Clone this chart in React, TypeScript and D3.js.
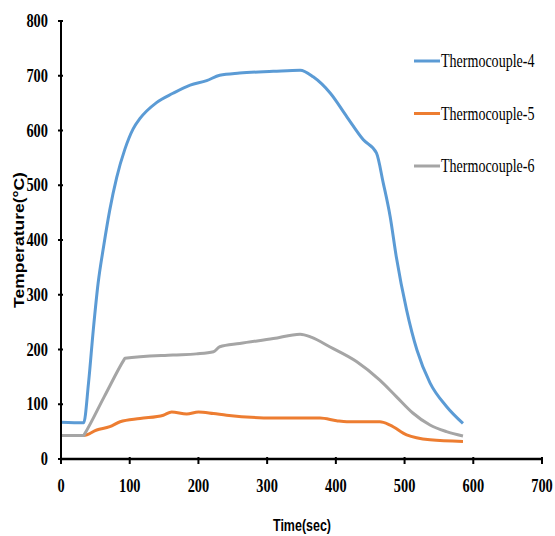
import React from "react";
import * as d3 from "d3";

const xTicks = [0, 100, 200, 300, 400, 500, 600, 700];
const yTicks = [0, 100, 200, 300, 400, 500, 600, 700, 800];
const seriesNames = ["Thermocouple-4", "Thermocouple-5", "Thermocouple-6"];
const seriesColors = ["#5B9BD5", "#ED7D31", "#A5A5A5"];

const tc4: [number, number][] = [
  [0, 67], [33, 66], [40, 138], [47, 236], [54, 321], [62, 388], [71, 455], [81, 514],
  [93, 566], [105, 603], [115, 622], [139, 651], [163, 668], [188, 683], [212, 691], [231, 701],
  [260, 705], [309, 708], [348, 710], [367, 698], [392, 668], [416, 625], [440, 583],
  [459, 559], [469, 504], [479, 443], [488, 369], [503, 272], [518, 199], [537, 139],
  [561, 96], [585, 65],
];
const tc5: [number, number][] = [
  [0, 43], [33, 43], [52, 53], [71, 59], [86, 68], [115, 74], [149, 80], [161, 86],
  [183, 82], [200, 86], [222, 83], [241, 80], [309, 75], [377, 75], [401, 70],
  [416, 68], [464, 68], [479, 62], [503, 44], [537, 35], [585, 32],
];
const tc6: [number, number][] = [
  [0, 43], [33, 43], [34, 45], [63, 114], [92, 182], [93, 184], [163, 190], [197, 192],
  [222, 196], [231, 205], [260, 211], [309, 220], [348, 228], [365, 222], [391, 205],
  [430, 178], [464, 144], [488, 114], [512, 84], [537, 62], [561, 50], [585, 42],
];
const allSeries = [tc4, tc5, tc6];

const W = 555, H = 536;
const L = 61, R = 542, T = 21, B = 459;

export default function App() {
  const x = d3.scaleLinear().domain([0, 700]).range([L, R]);
  const y = d3.scaleLinear().domain([0, 800]).range([B, T]);
  const smooth = d3.line<[number, number]>().x(d => x(d[0])).y(d => y(d[1])).curve(d3.curveMonotoneX);
  const serif = "'Liberation Serif', 'Times New Roman', serif";
  return (
    <svg width={W} height={H} style={{ position: "absolute", left: 0, top: 0, background: "#fff" }}>
      {allSeries.map((s, i) => (
        <path key={i} d={smooth(s) || ""} fill="none" stroke={seriesColors[i]}
          strokeWidth={3} strokeLinejoin="round" />
      ))}
      <line x1={L} x2={L} y1={T} y2={B} stroke="#000" strokeWidth={2} />
      <line x1={L} x2={R} y1={B} y2={B} stroke="#000" strokeWidth={2.5} />
      {yTicks.map(t => (
        <g key={"y" + t}>
          <line x1={L - 3} x2={L + 2} y1={y(t)} y2={y(t)} stroke="#000" strokeWidth={2} />
          <text transform={`translate(${L - 13},${y(t) + 6}) scale(0.8,1)`} textAnchor="end"
            fontFamily={serif} fontWeight="bold" fontSize={18} fill="#000">{t}</text>
        </g>
      ))}
      {xTicks.map(t => (
        <g key={"x" + t}>
          <line x1={x(t)} x2={x(t)} y1={B - 2} y2={B + 5} stroke="#000" strokeWidth={2} />
          <text transform={`translate(${x(t)},${B + 33}) scale(0.8,1)`} textAnchor="middle"
            fontFamily={serif} fontWeight="bold" fontSize={18} fill="#000">{t}</text>
        </g>
      ))}
      <text transform={`translate(302,531) scale(0.78,1)`} textAnchor="middle"
        fontFamily="'Liberation Sans', Arial, sans-serif" fontWeight="bold" fontSize={16} fill="#000">Time(sec)</text>
      <text transform={`translate(24,240) rotate(-90) scale(1.25,1)`} textAnchor="middle"
        fontFamily="'Liberation Sans', Arial, sans-serif" fontWeight="bold" fontSize={14} fill="#000">Temperature(°C)</text>
      {seriesNames.map((n, i) => (
        <g key={n}>
          <line x1={414} x2={440} y1={61 + i * 52.5} y2={61 + i * 52.5} stroke={seriesColors[i]} strokeWidth={3} />
          <text transform={`translate(441,${67 + i * 52.5}) scale(0.78,1)`}
            fontFamily={serif} fontSize={18} fill="#000">{n}</text>
        </g>
      ))}
    </svg>
  );
}
